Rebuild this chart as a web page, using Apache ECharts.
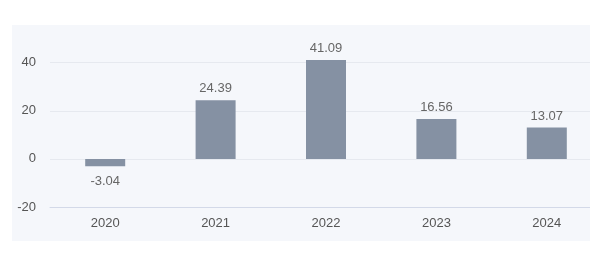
<!DOCTYPE html>
<html>
<head>
<meta charset="utf-8">
<script src="https://cdn.jsdelivr.net/npm/echarts@6/dist/echarts.min.js"></script>
<style>
html,body{margin:0;padding:0;background:#ffffff;width:605px;height:271px;overflow:hidden;position:relative;}
#panel{position:absolute;left:12px;top:25px;width:578px;height:216px;background:#f5f7fb;}
#chart{position:absolute;left:0;top:0;width:605px;height:271px;}
#mask{position:absolute;left:590px;top:0;width:15px;height:271px;background:#ffffff;}
</style>
</head>
<body>
<div id="panel"></div>
<div id="chart"></div>
<div id="mask"></div>
<script>
const categories = ['2020', '2021', '2022', '2023', '2024'];
const values = [-3.04, 24.39, 41.09, 16.56, 13.07];
const yTicks = { min: -20, max: 50, interval: 20 };

const chart = echarts.init(document.getElementById('chart'), null, { renderer: 'canvas' });
const font = '"Liberation Sans", Arial, sans-serif';
chart.setOption({
  backgroundColor: 'transparent',
  animation: false,
  grid: { left: 50, top: 38.6, right: 3, height: 168.4 },
  xAxis: {
    type: 'category',
    data: categories,
    axisTick: { show: false },
    axisLine: { show: true, onZero: false, lineStyle: { color: '#d3d9e8', width: 1 } },
    axisLabel: { color: '#555', fontSize: 13, fontFamily: font, margin: 10 }
  },
  yAxis: {
    type: 'value',
    min: yTicks.min,
    max: yTicks.max,
    interval: yTicks.interval,
    axisLine: { show: false },
    axisTick: { show: false },
    axisLabel: { color: '#555', fontSize: 13, fontFamily: font, margin: 14, showMaxLabel: false },
    splitLine: { show: true, showMaxLine: false, lineStyle: { color: '#e6e9ef', width: 1 } }
  },
  series: [{
    type: 'bar',
    barWidth: 40,
    itemStyle: { color: '#8591a3' },
    label: { show: true, color: '#666', fontSize: 13, fontFamily: font },
    data: values.map(v => ({
      value: v,
      label: { position: v < 0 ? 'bottom' : 'top', distance: v < 0 ? 9 : 5 }
    }))
  }]
});
</script>
</body>
</html>
